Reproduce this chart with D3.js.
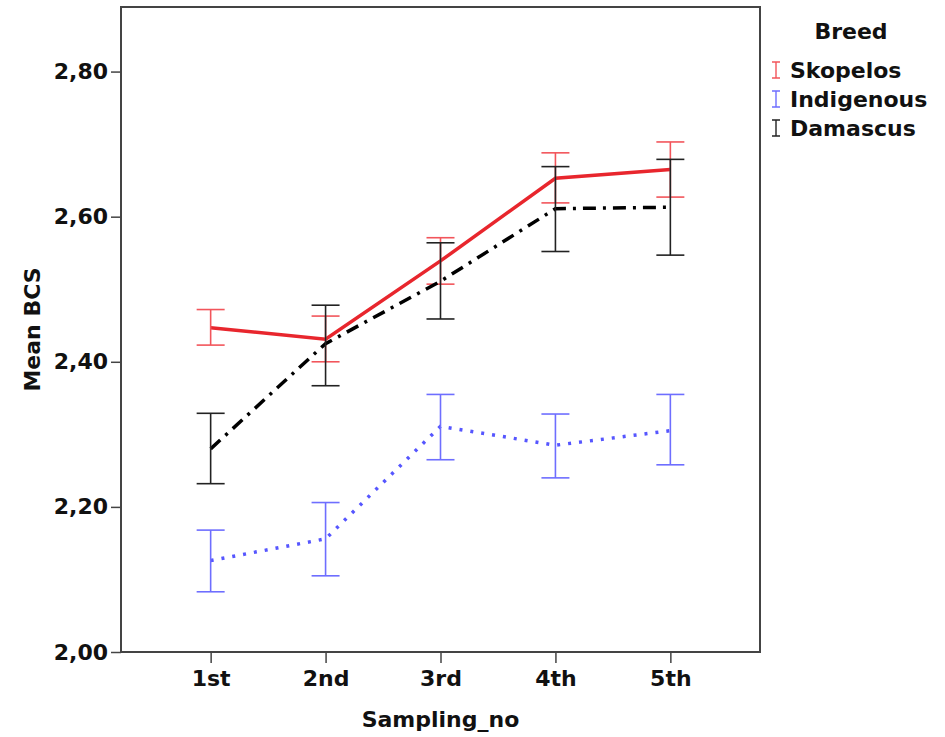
<!DOCTYPE html>
<html>
<head>
<meta charset="utf-8">
<script src="https://cdn.jsdelivr.net/npm/d3@7"></script>
<style>
  body { margin: 0; background: #fff; }
  text { font-family: "DejaVu Sans", "Liberation Sans", sans-serif; font-weight: bold; fill: #111; }
</style>
</head>
<body>
<svg id="chart" width="945" height="737"></svg>
<script>
// data
var samplings = ['1st', '2nd', '3rd', '4th', '5th'];
var breeds = ['Skopelos', 'Indigenous', 'Damascus'];

var skopelosMean = [2.447, 2.431, 2.539, 2.653, 2.665];
var skopelosLow  = [2.423, 2.400, 2.507, 2.619, 2.627];
var skopelosHigh = [2.472, 2.463, 2.571, 2.688, 2.703];

var indigenousMean = [2.126, 2.156, 2.311, 2.285, 2.305];
var indigenousLow  = [2.083, 2.105, 2.265, 2.240, 2.258];
var indigenousHigh = [2.168, 2.206, 2.355, 2.328, 2.355];

var damascusMean = [2.280, 2.425, 2.511, 2.611, 2.613];
var damascusLow  = [2.232, 2.367, 2.459, 2.552, 2.547];
var damascusHigh = [2.329, 2.478, 2.564, 2.669, 2.679];

var yTicks = [2.0, 2.2, 2.4, 2.6, 2.8];

var styles = {
  Skopelos:   { line: '#e8262d', bar: '#f2555b', dash: null },
  Indigenous: { line: '#5656ff', bar: '#6e6eff', dash: '3,8' },
  Damascus:   { line: '#000000', bar: '#222222', dash: '13,7,3,7' }
};

var series = [
  { name: 'Skopelos', mean: skopelosMean, low: skopelosLow, high: skopelosHigh },
  { name: 'Indigenous', mean: indigenousMean, low: indigenousLow, high: indigenousHigh },
  { name: 'Damascus', mean: damascusMean, low: damascusLow, high: damascusHigh }
];

var plot = { left: 121, top: 7, right: 760, bottom: 652 };
var capHalf = 14;
var fontSize = 22;

var svg = d3.select('#chart');

var x = d3.scalePoint()
  .domain(samplings)
  .range([plot.left, plot.right])
  .padding(0.78);

var y = d3.scaleLinear()
  .domain([2.0, 2.889])
  .range([plot.bottom, plot.top]);

var fmt = function(v) { return d3.format('.2f')(v).replace('.', ','); };

// frame
svg.append('rect')
  .attr('x', plot.left)
  .attr('y', plot.top)
  .attr('width', plot.right - plot.left)
  .attr('height', plot.bottom - plot.top)
  .attr('fill', 'none')
  .attr('stroke', '#444')
  .attr('stroke-width', 2);

// axes
var yAxis = svg.append('g')
  .attr('transform', 'translate(' + plot.left + ',0)')
  .call(d3.axisLeft(y).tickValues(yTicks).tickFormat(fmt).tickSize(10).tickPadding(3));
var xAxis = svg.append('g')
  .attr('transform', 'translate(0,' + plot.bottom + ')')
  .call(d3.axisBottom(x).tickSize(11).tickPadding(7));

[yAxis, xAxis].forEach(function(ax) {
  ax.select('.domain').remove();
  ax.selectAll('line').attr('stroke', '#444').attr('stroke-width', 1.5);
  ax.selectAll('text').attr('font-size', fontSize).attr('fill', '#111');
});

svg.append('text')
  .attr('transform', 'translate(40,' + ((plot.top + plot.bottom) / 2) + ') rotate(-90)')
  .attr('text-anchor', 'middle')
  .attr('font-size', fontSize)
  .text('Mean BCS');

svg.append('text')
  .attr('x', (plot.left + plot.right) / 2)
  .attr('y', 727)
  .attr('text-anchor', 'middle')
  .attr('font-size', fontSize)
  .text('Sampling_no');

// lines and error bars
var line = d3.line()
  .x(function(d) { return x(d.s); })
  .y(function(d) { return y(d.v); });

series.forEach(function(s) {
  var st = styles[s.name];
  var pts = samplings.map(function(k, i) {
    return { s: k, v: s.mean[i], lo: s.low[i], hi: s.high[i] };
  });
  var g = svg.append('g').attr('class', 'series');

  g.append('path')
    .datum(pts)
    .attr('d', line)
    .attr('fill', 'none')
    .attr('stroke', st.line)
    .attr('stroke-width', 3.5)
    .attr('stroke-dasharray', st.dash);

  var bars = g.selectAll('.bar').data(pts).enter().append('g').attr('class', 'bar')
    .attr('stroke', st.bar)
    .attr('stroke-width', 1.6);
  bars.append('line')
    .attr('x1', function(d) { return x(d.s); })
    .attr('x2', function(d) { return x(d.s); })
    .attr('y1', function(d) { return y(d.lo); })
    .attr('y2', function(d) { return y(d.hi); });
  bars.append('line')
    .attr('x1', function(d) { return x(d.s) - capHalf; })
    .attr('x2', function(d) { return x(d.s) + capHalf; })
    .attr('y1', function(d) { return y(d.hi); })
    .attr('y2', function(d) { return y(d.hi); });
  bars.append('line')
    .attr('x1', function(d) { return x(d.s) - capHalf; })
    .attr('x2', function(d) { return x(d.s) + capHalf; })
    .attr('y1', function(d) { return y(d.lo); })
    .attr('y2', function(d) { return y(d.lo); });
});

// legend
var legend = svg.append('g').attr('transform', 'translate(776,0)');
legend.append('text')
  .attr('x', 75)
  .attr('y', 39)
  .attr('text-anchor', 'middle')
  .attr('font-size', fontSize)
  .text('Breed');

var items = legend.selectAll('.item').data(breeds).enter().append('g')
  .attr('class', 'item')
  .attr('transform', function(d, i) { return 'translate(0,' + (70 + i * 29) + ')'; });
items.append('path')
  .attr('d', 'M-4,-8H4M0,-8V8M-4,8H4')
  .attr('fill', 'none')
  .attr('stroke', function(d) { return styles[d].bar; })
  .attr('stroke-width', 1.4);
items.append('text')
  .attr('x', 14)
  .attr('y', 8)
  .attr('font-size', fontSize)
  .text(function(d) { return d; });
</script>
</body>
</html>
